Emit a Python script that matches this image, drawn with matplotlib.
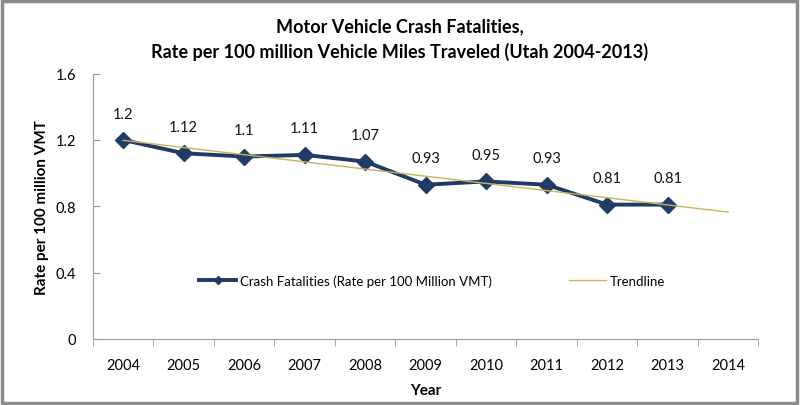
import numpy as np
import matplotlib.pyplot as plt
from matplotlib.patches import Rectangle

plt.rcParams['font.family'] = ['Lato', 'DejaVu Sans']

years = ['2004', '2005', '2006', '2007', '2008', '2009', '2010', '2011', '2012', '2013', '2014']
rates = [1.2, 1.12, 1.1, 1.11, 1.07, 0.93, 0.95, 0.93, 0.81, 0.81]
rate_labels = ['1.2', '1.12', '1.1', '1.11', '1.07', '0.93', '0.95', '0.93', '0.81', '0.81']
yticks = [0, 0.4, 0.8, 1.2, 1.6]
ytick_labels = ['0', '0.4', '0.8', '1.2', '1.6']

navy = '#1f3b66'
trend_col = '#c8b35a'

fig = plt.figure(figsize=(8, 4.06), dpi=100)
ax = fig.add_axes([0.116, 0.163, 0.832, 0.653])

x = np.arange(len(rates))
ax.plot(x, rates, color=navy, lw=2.8, marker='D', ms=8, mec=navy, mfc=navy,
        label='Crash Fatalities (Rate per 100 Million VMT)', zorder=3)

# linear trend fitted on the data, extended one year
k, b = np.polyfit(x, rates, 1)
xt = np.arange(len(years))
ax.plot(xt, k * xt + b, color=trend_col, lw=1.0, label='Trendline', zorder=4)

for xi, yi, s in zip(x, rates, rate_labels):
    ax.annotate(s, (xi, yi), xytext=(0, 14), textcoords='offset points',
                ha='center', va='bottom', fontsize=10.5, color='#111111')

ax.set_xlim(-0.5, len(years) - 0.5)
ax.set_ylim(0, 1.6)
ax.set_yticks(yticks)
ax.set_yticklabels(ytick_labels)
ax.set_xticks(np.arange(len(years)))
ax.set_xticklabels(years)
ax.set_xticks(np.arange(len(years) + 1) - 0.5, minor=True)
ax.tick_params(axis='x', which='major', length=0, pad=14, labelsize=10.5)
ax.tick_params(axis='x', which='minor', length=5, color='#999999', direction='out')
ax.tick_params(axis='y', length=5, color='#999999', direction='in', pad=12, labelsize=10.5)
for s in ['top', 'right']:
    ax.spines[s].set_visible(False)
for s in ['left', 'bottom']:
    ax.spines[s].set_color('#999999')

ax.set_xlabel('Year', fontsize=11, fontweight='bold', labelpad=8)
ax.set_ylabel('Rate per 100 million VMT', fontsize=11, fontweight='bold', labelpad=5)

ax.legend(loc='center', bbox_to_anchor=(0.51, 0.22), ncol=2, frameon=False,
          fontsize=9.5, columnspacing=5.8, handlelength=2.8, handletextpad=0.3,
          markerscale=0.5)

fig.suptitle('Motor Vehicle Crash Fatalities,\nRate per 100 million Vehicle Miles Traveled (Utah 2004-2013)',
             fontsize=13, fontweight='bold', y=0.955, linespacing=1.5)

fig.patches.append(Rectangle((0.002, 0.004), 0.994, 0.99, transform=fig.transFigure,
                             fill=False, edgecolor='#8c8c8c', lw=2.5))

fig.savefig('out.png', dpi=100)
